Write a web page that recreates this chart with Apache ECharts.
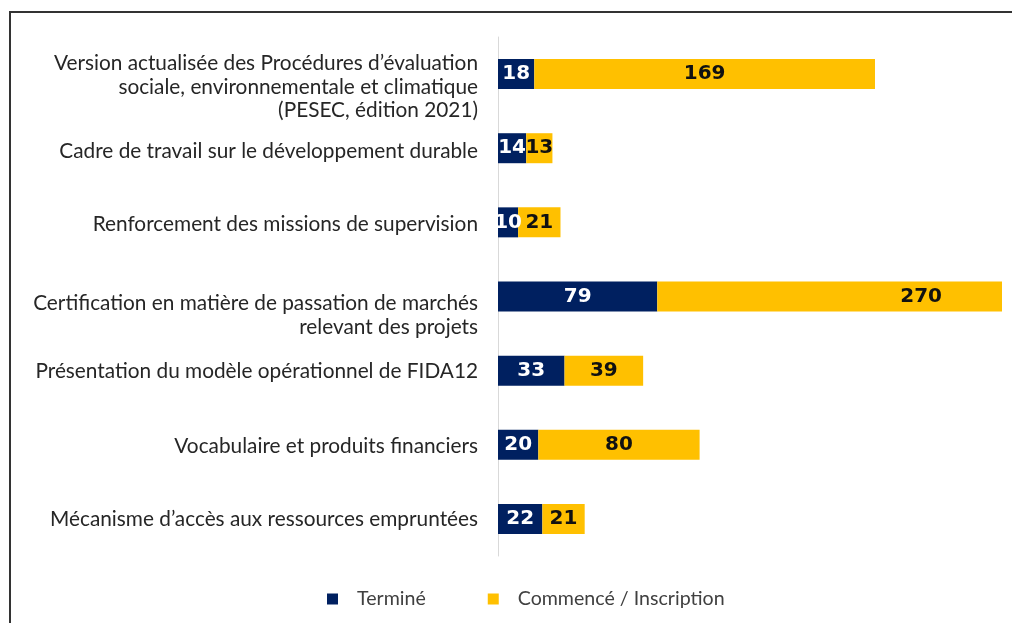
<!DOCTYPE html>
<html>
<head>
<meta charset="utf-8">
<script src="https://cdn.jsdelivr.net/npm/echarts@6/dist/echarts.min.js"></script>
<style>
html,body{margin:0;padding:0;background:#fff;}
#chart{width:1012px;height:623px;}
</style>
</head>
<body>
<div id="chart"></div>
<script>
var categories = [
  "Version actualisée des Procédures d’évaluation\nsociale, environnementale et climatique\n(PESEC, édition 2021)",
  "Cadre de travail sur le développement durable",
  "Renforcement des missions de supervision",
  "Certification en matière de passation de marchés\nrelevant des projets",
  "Présentation du modèle opérationnel de FIDA12",
  "Vocabulaire et produits financiers",
  "Mécanisme d’accès aux ressources empruntées"
];
var termine = [18, 14, 10, 79, 33, 20, 22];
var commence = [169, 13, 21, 270, 39, 80, 21];
var seriesNames = ["Terminé", "Commencé / Inscription"];

var axisMax = 250;
// vertical nudges (px) of the category labels, to mimic the original layout
var labelShift = [13, 3, 2, 19, 1, 2, 0];

var chart = echarts.init(document.getElementById('chart'));

var rich = {
  t: { color: '#262626', fontFamily: 'Lato', fontSize: 20.8, lineHeight: 23.5, align: 'right' }
};
labelShift.forEach(function (s, i) {
  rich['sp' + i] = { fontSize: 1, lineHeight: Math.max(1, 2 * s), align: 'right' };
});

var commenceData = commence.map(function (v, i) {
  var item = { value: v };
  if (termine[i] + v > axisMax) {
    item.label = { position: 'insideRight', distance: 60 };
  }
  return item;
});

var valueLabel = { show: true, position: 'inside', fontFamily: 'DejaVu Sans', fontWeight: 'bold', fontSize: 20 };

var option = {
  animation: false,
  backgroundColor: '#ffffff',
  grid: { left: 498, right: 10, top: 37, bottom: 67, containLabel: false },
  xAxis: {
    type: 'value', min: 0, max: axisMax,
    axisLine: { show: false }, axisTick: { show: false },
    axisLabel: { show: false }, splitLine: { show: false }
  },
  yAxis: {
    type: 'category', inverse: true, data: categories,
    axisLine: { show: true, lineStyle: { color: '#d9d9d9', width: 1 } },
    axisTick: { show: false },
    axisLabel: {
      align: 'right', margin: 20,
      formatter: function (value, index) {
        var lines = value.split('\n').map(function (l) { return '{t|' + l + '}'; }).join('\n');
        return '{sp' + index + '|\u00a0}\n' + lines;
      },
      rich: rich
    }
  },
  legend: {
    left: 327, top: 589, padding: 0, icon: 'rect', itemWidth: 11, itemHeight: 11, itemGap: 62,
    textStyle: { color: '#404040', fontFamily: 'Lato', fontSize: 19.6, padding: [0, 0, 0, 14] },
    data: seriesNames
  },
  series: [
    {
      name: seriesNames[0], type: 'bar', stack: 'total', barWidth: 30,
      itemStyle: { color: '#002060' },
      label: Object.assign({ color: '#ffffff' }, valueLabel),
      data: termine
    },
    {
      name: seriesNames[1], type: 'bar', stack: 'total', barWidth: 30,
      itemStyle: { color: '#ffc000' },
      label: Object.assign({ color: '#111111' }, valueLabel),
      data: commenceData
    }
  ],
  graphic: [
    {
      type: 'rect', silent: true, z: -10,
      shape: { x: 10, y: 12, width: 1200, height: 800 },
      style: { fill: 'none', stroke: '#333333', lineWidth: 2 }
    }
  ]
};
chart.setOption(option);
</script>
</body>
</html>
